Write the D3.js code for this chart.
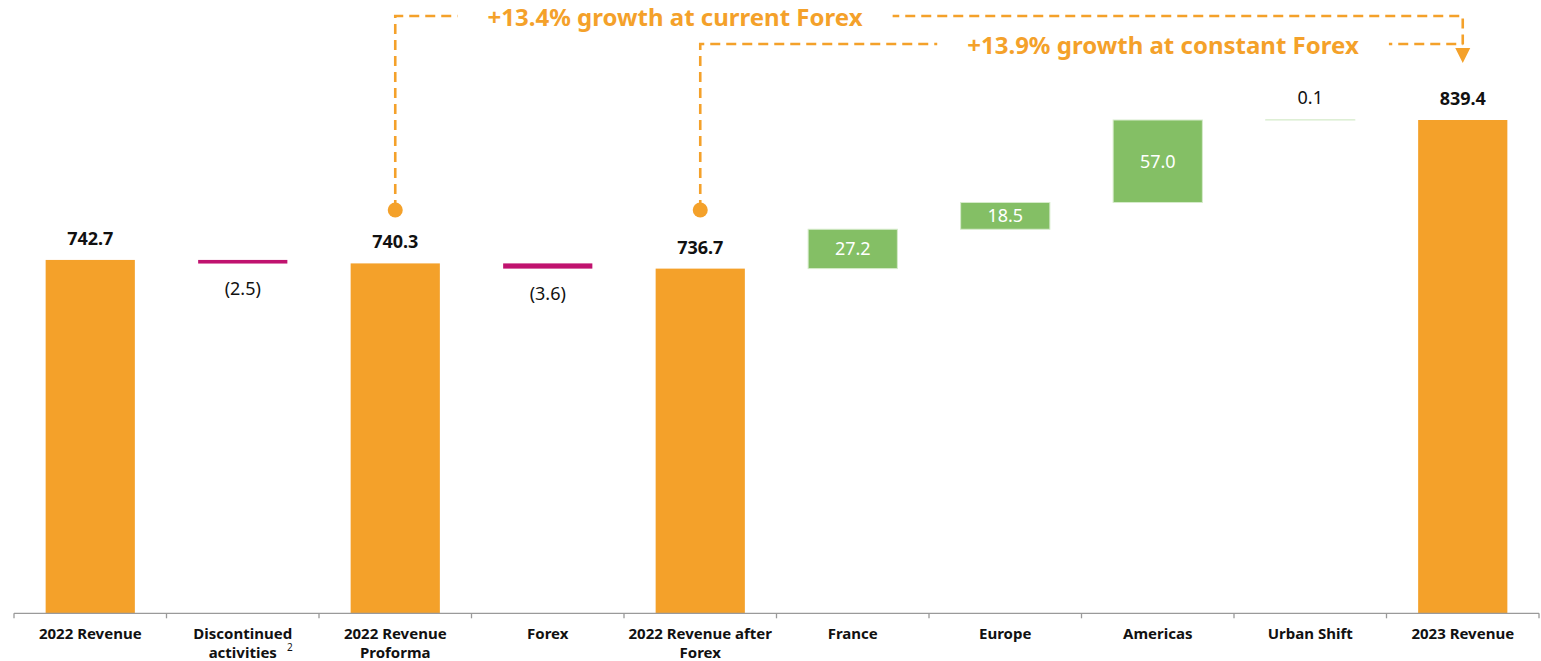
<!DOCTYPE html>
<html>
<head>
<meta charset="utf-8">
<script src="https://cdn.jsdelivr.net/npm/d3@7"></script>
<style>
  html, body { margin: 0; padding: 0; background: #fff; }
  svg { display: block; }
  text { font-family: "Noto Sans", "Lato", sans-serif; }
</style>
</head>
<body>
<svg id="chart" width="1541" height="661"></svg>
<script>
// ---- data ----
const categories = ["2022 Revenue", "Discontinued activities", "2022 Revenue Proforma", "Forex",
  "2022 Revenue after Forex", "France", "Europe", "Americas", "Urban Shift", "2023 Revenue"];
const values = [742.7, -2.5, 740.3, -3.6, 736.7, 27.2, 18.5, 57.0, 0.1, 839.4];
const kinds = ["total", "delta", "total", "delta", "total", "delta", "delta", "delta", "delta", "total"];
const valueLabels = ["742.7", "(2.5)", "740.3", "(3.6)", "736.7", "27.2", "18.5", "57.0", "0.1", "839.4"];
const tickLabels = [["2022 Revenue"], ["Discontinued", "activities"], ["2022 Revenue", "Proforma"], ["Forex"],
  ["2022 Revenue after", "Forex"], ["France"], ["Europe"], ["Americas"], ["Urban Shift"], ["2023 Revenue"]];
const annotations = ["+13.4% growth at current Forex", "+13.9% growth at constant Forex"];
const axisFloor = 498.5;

// ---- colours ----
const ORANGE = "#F4A12A", GREEN = "#84BF65", MAGENTA = "#C0136F";

const svg = d3.select("#chart");

const x = d3.scaleBand().domain(categories).range([14, 1539]).paddingInner(0.415).paddingOuter(0.2075);
const y = d3.scaleLinear().domain([axisFloor, 839.4]).range([613.3, 120]);

// waterfall computation
let running = axisFloor;
const bars = categories.map((c, i) => {
  const v = values[i];
  let lo, hi;
  if (kinds[i] === "total") { lo = axisFloor; hi = v; running = v; }
  else { const s = running; const e = running + v; lo = Math.min(s, e); hi = Math.max(s, e); running = e; }
  const color = kinds[i] === "total" ? ORANGE : (v < 0 ? MAGENTA : GREEN);
  return { c, v, kind: kinds[i], lo, hi, color, label: valueLabels[i] };
});

const g = svg.append("g");

g.selectAll("rect.bar").data(bars).join("rect")
  .attr("class", "bar")
  .attr("x", d => x(d.c))
  .attr("width", x.bandwidth())
  .attr("y", d => y(d.hi))
  .attr("height", d => Math.max(0.1, y(d.lo) - y(d.hi)))
  .attr("fill", d => d.color)
  .attr("stroke", d => d.color === GREEN ? "#d6ebcb" : "none")
  .attr("stroke-width", 1);

// value labels
g.selectAll("text.val").data(bars).join("text")
  .attr("class", "val")
  .attr("text-anchor", "middle")
  .attr("x", d => x(d.c) + x.bandwidth() / 2)
  .attr("y", d => {
    if (d.kind === "total") return y(d.hi) - 15;
    if (d.v < 0) return y(d.lo) + 31;
    if (y(d.lo) - y(d.hi) < 20) return y(d.hi) - 16;
    return (y(d.lo) + y(d.hi)) / 2 + 6.5;
  })
  .attr("font-size", 18)
  .attr("font-weight", d => d.kind === "total" ? 700 : 400)
  .attr("fill", d => (d.kind === "delta" && d.v > 0 && y(d.lo) - y(d.hi) >= 20) ? "#fff" : "#111")
  .text(d => d.label);

// axis
const step = x.step();
const gap = step - x.bandwidth();
const axisG = svg.append("g").attr("transform", `translate(0,${y(axisFloor)})`);
axisG.call(d3.axisBottom(x).tickSize(0).tickFormat(""));
axisG.select(".domain").attr("stroke", "#9a9a9a").attr("stroke-width", 1.3).attr("d", `M14,0H1539`);
const boundaries = categories.map(c => x(c) - gap / 2).concat([x.range()[1]]);
axisG.selectAll("line.tb").data(boundaries).join("line")
  .attr("class", "tb")
  .attr("x1", d => d).attr("x2", d => d)
  .attr("y1", 0).attr("y2", 5)
  .attr("stroke", "#9a9a9a").attr("stroke-width", 1.3);

const lab = axisG.selectAll("text.tl").data(categories).join("text")
  .attr("class", "tl")
  .attr("text-anchor", "middle")
  .attr("font-size", 15)
  .attr("font-weight", 700)
  .attr("fill", "#111")
  .attr("transform", d => `translate(${x(d) + x.bandwidth() / 2},0)`);
lab.each(function(d, i) {
  const t = d3.select(this);
  tickLabels[i].forEach((line, j) => {
    t.append("tspan").attr("x", 0).attr("y", 26 + j * 18.5).text(line);
  });
});
// superscript footnote marker on "activities"
const supX = x(categories[1]) + x.bandwidth() / 2 + 47;
axisG.append("text")
  .attr("x", supX).attr("y", 38)
  .attr("font-size", 10).attr("fill", "#111")
  .text("2");

// annotations
const cx = c => x(c) + x.bandwidth() / 2;
const xA = cx(categories[2]), xB = cx(categories[4]), xEnd = cx(categories[9]);
const dotY = 210, row1 = 16, row2 = 44, arrowTip = 63;
const ann = svg.append("g");
const dash = { stroke: ORANGE, "stroke-width": 2.6, fill: "none", "stroke-dasharray": "10,6" };
function dpath(d) {
  const p = ann.append("path").attr("d", d);
  Object.entries(dash).forEach(([k, v]) => p.attr(k, v));
}
dpath(`M${xA},${dotY}V${row1}H${xEnd}V${arrowTip - 14}`);
dpath(`M${xB},${dotY}V${row2}H${xEnd}`);
ann.append("path")
  .attr("d", `M${xEnd - 7.5},${arrowTip - 15}L${xEnd + 7.5},${arrowTip - 15}L${xEnd},${arrowTip}Z`)
  .attr("fill", ORANGE);
[xA, xB].forEach(px => ann.append("circle").attr("cx", px).attr("cy", dotY).attr("r", 7.5).attr("fill", ORANGE));

const labelPos = [[675, 26], [1163, 54]];
annotations.forEach((t, i) => {
  const tx = ann.append("text")
    .attr("x", labelPos[i][0]).attr("y", labelPos[i][1])
    .attr("text-anchor", "middle")
    .attr("font-size", 24).attr("font-weight", 700)
    .attr("fill", ORANGE).text(t);
  const bb = tx.node().getBBox();
  ann.insert("rect", function() { return tx.node(); })
    .attr("x", bb.x - 30).attr("width", bb.width + 60)
    .attr("y", bb.y).attr("height", bb.height)
    .attr("fill", "#fff");
});
</script>
</body>
</html>
